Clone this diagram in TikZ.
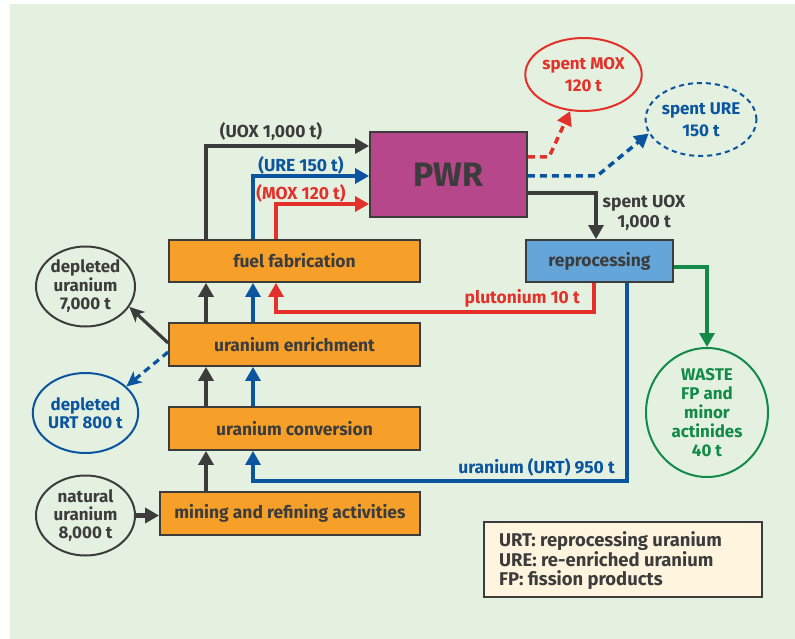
\documentclass[tikz,border=0pt]{standalone}
\usepackage{fontspec}
\setmainfont{Fira Sans}
\usetikzlibrary{arrows.meta,shapes.geometric,calc}
\definecolor{bgpanel}{HTML}{E4F1E0}
\definecolor{dk}{HTML}{3C3C3C}
\definecolor{orng}{HTML}{F6A02A}
\definecolor{purp}{HTML}{B5478A}
\definecolor{lblue}{HTML}{64A6DA}
\definecolor{legbg}{HTML}{FFF4DE}
\definecolor{bl}{HTML}{0B55A0}
\definecolor{rd}{HTML}{E4302A}
\definecolor{gr}{HTML}{138A47}
\tikzset{
  txt/.style={font=\fontsize{17.5}{18}\selectfont\bfseries},
  procbox/.style={draw=dk,line width=1.8bp,fill=orng,txt,text=dk,inner sep=0pt},
  ell/.style={ellipse,line width=2bp,align=center,inner sep=0pt,minimum width=99bp,minimum height=80bp,fill=bgpanel},
  tip/.style={-{Triangle[length=14bp,width=15bp]}},
  conn/.style={line width=3.2bp,tip},
  thick conn/.style={line width=4.2bp,tip},
  dashline/.style={line width=3.5bp,dash pattern=on 7bp off 5bp},
  lbl/.style={txt,inner sep=0pt},
}
\begin{document}
\begin{tikzpicture}[x=1bp,y=-1bp]
\useasboundingbox (0,0) rectangle (795,639);
\fill[white] (0,0) rectangle (795,639);
\fill[bgpanel] (10,4) rectangle (795,639);

% boxes
\node[procbox,minimum width=251bp,minimum height=42bp] (fab) at (294.5,261) {fuel fabrication};
\node[procbox,minimum width=251bp,minimum height=43bp] (enr) at (294.5,344.5) {uranium enrichment};
\node[procbox,minimum width=251bp,minimum height=43bp] (conv) at (294.5,428.5) {uranium conversion};
\node[procbox,minimum width=260bp,minimum height=43bp] (mine) at (290,513.5) {mining and refining activities};
\node[draw=dk,line width=1.8bp,fill=purp,text=dk,inner sep=0pt,minimum width=157bp,minimum height=85bp,font=\fontsize{34}{36}\selectfont\bfseries] (pwr) at (448.5,174.5) {PWR};
\node[draw=dk,line width=1.8bp,fill=lblue,txt,text=dk,inner sep=0pt,minimum width=147bp,minimum height=42bp] (rep) at (599.5,261) {reprocessing};

% ellipses
\node[ell,draw=dk,text=dk,font=\fontsize{17}{18.5}\selectfont\bfseries] (du) at (85.5,286.5) {depleted\\uranium\\7,000 t};
\node[ell,draw=bl,text=bl,font=\fontsize{17}{18.5}\selectfont\bfseries] (durt) at (85.5,413) {depleted\\URT 800 t};
\node[ell,draw=dk,text=dk,font=\fontsize{17}{18.5}\selectfont\bfseries] (nu) at (85.5,515.5) {natural\\uranium\\8,000 t};
\node[ell,draw=rd,text=rd,minimum width=99bp,minimum height=73bp,font=\fontsize{17}{22}\selectfont\bfseries] (smox) at (583.5,74.5) {spent MOX\\120 t};
\node[ell,draw=bl,text=bl,dash pattern=on 5bp off 4bp,minimum width=98bp,minimum height=73bp,font=\fontsize{17}{22}\selectfont\bfseries] (sure) at (701,119.5) {spent URE\\150 t};
\node[ell,draw=gr,text=gr,minimum width=122bp,minimum height=129bp,font=\fontsize{17}{19}\selectfont\bfseries] (waste) at (707,412.5) {WASTE\\FP and\\minor\\actinides\\40 t};

% legend
\node[draw=dk,line width=1.5bp,fill=legbg,minimum width=278bp,minimum height=75bp,inner sep=0pt] (leg) at (623,559.5) {};
\node[text=dk,align=left,anchor=west,inner sep=0pt,font=\fontsize{18.5}{19}\selectfont\bfseries] (legt) at (499,561) {URT: reprocessing uranium\\URE: re-enriched uranium\\FP: fission products};

% fuel fabrication -> PWR
\draw[conn,dk] (fab.north -| 206,0) |- (pwr.west |- 0,146);
\draw[conn,bl] (fab.north -| 253,0) |- (pwr.west |- 0,176);
\draw[conn,rd] (fab.north -| 276,0) |- (pwr.west |- 0,204);
\node[lbl,text=dk] (luox) at (271,132) {(UOX 1,000 t)};
\node[lbl,text=bl] (lure) at (301,165) {(URE 150 t)};
\node[lbl,text=rd] (lmox) at (301,193) {(MOX 120 t)};

% enrichment -> fabrication
\draw[thick conn,dk] (enr.north -| 206,0) -- (fab.south -| 206,0);
\draw[conn,bl] (enr.north -| 253,0) -- (fab.south -| 253,0);
% conversion -> enrichment
\draw[thick conn,dk] (conv.north -| 206,0) -- (enr.south -| 206,0);
\draw[conn,bl] (conv.north -| 253,0) -- (enr.south -| 253,0);
% mining -> conversion
\draw[thick conn,dk] (mine.north -| 206,0) -- (conv.south -| 206,0);
% natural uranium -> mining
\draw[thick conn,dk] (nu.east) -- (mine.west |- nu.east);

% enrichment -> depleted
\draw[dk,line width=3.2bp,-{Stealth[length=15bp,width=14bp,inset=4bp]}] (enr.west |- 0,343) -- (du.-25);
\draw[bl,dashline,line width=3.2bp,-{Stealth[length=15bp,width=14bp,inset=4bp]}] (enr.west |- 0,352) -- (durt.33);

% PWR -> reprocessing
\draw[conn,dk] (pwr.east |- 0,193) -| (rep.north -| 596,0);
\node[lbl,text=dk,align=center,font=\fontsize{17.5}{20}\selectfont\bfseries] (luoxs) at (644,213) {spent UOX\\1,000 t};

% PWR -> spent fuels
\draw[rd,dashline,tip] (pwr.east |- 0,157) -- (549,157) -- (smox.250);
\draw[bl,dashline,tip] (pwr.east |- 0,176) -- (597,176) -- (sure.195);

% reprocessing -> plutonium -> fabrication
\draw[conn,rd] (rep.south -| 594,0) |- (276,312) -- (fab.south -| 276,0);
\node[lbl,text=rd,anchor=east] (lpu) at (580,298) {plutonium 10 t};
% reprocessing -> uranium URT -> conversion
\draw[conn,bl] (rep.south -| 627,0) |- (253,481) -- (conv.south -| 253,0);
\node[lbl,text=bl,anchor=east] (lurt) at (615,467) {uranium (URT) 950 t};
% reprocessing -> waste
\draw[conn,gr] (rep.east |- 0,267) -| (waste.north);
\end{tikzpicture}
\end{document}
